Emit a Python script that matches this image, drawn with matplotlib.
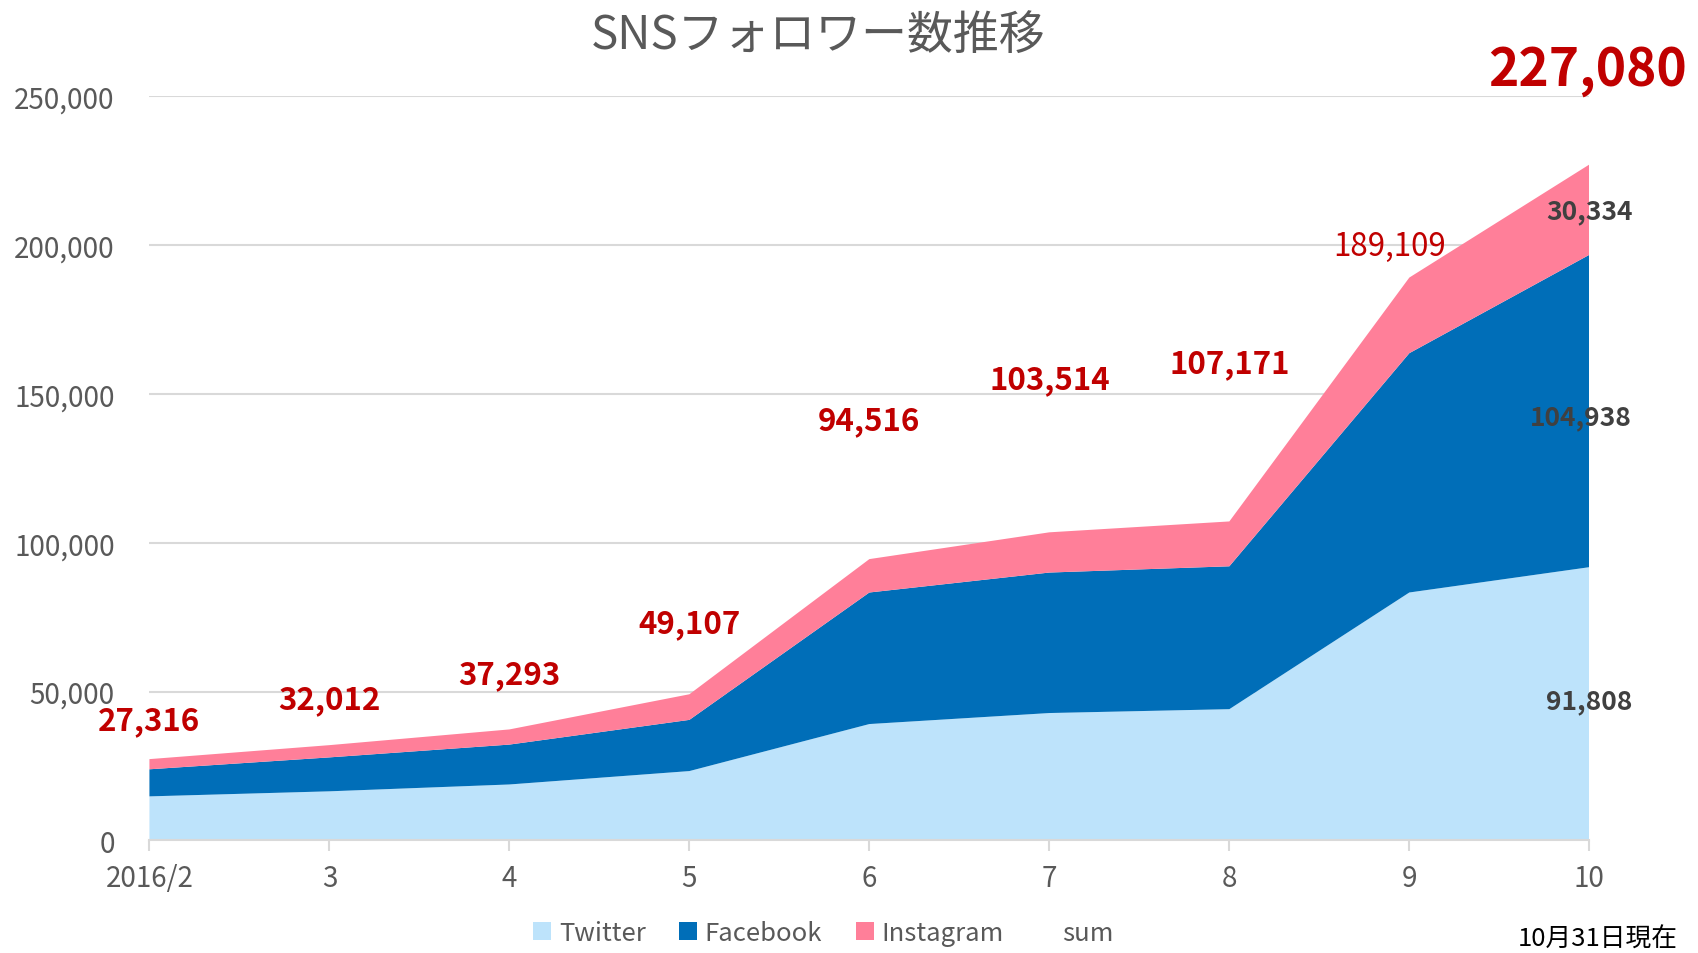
import matplotlib
matplotlib.use("Agg")
import matplotlib.pyplot as plt
import numpy as np
from matplotlib.patches import Patch
from matplotlib.lines import Line2D

plt.rcParams['font.family'] = ['Noto Sans CJK JP', 'DejaVu Sans']

# ---- data ----
months = ["2016/2", "3", "4", "5", "6", "7", "8", "9", "10"]
twitter = [14800, 16500, 18800, 23300, 39100, 42800, 44100, 83300, 91808]
facebook = [9100, 11400, 13400, 17200, 44200, 47200, 48000, 80400, 104938]
instagram = [3416, 4112, 5093, 8607, 11216, 13514, 15071, 25409, 30334]
totals = [27316, 32012, 37293, 49107, 94516, 103514, 107171, 189109, 227080]
series_names = ["Twitter", "Facebook", "Instagram", "sum"]

# label placement (offset above total, data units) and x shift
label_offsets = [13000, 15500, 18500, 24000, 46700, 51500, 53300, 10700]
label_xshift = [0, 0, 0, 0, 0, 0, 0, -0.11]

c_tw = "#BDE3FB"
c_fb = "#006EB8"
c_ig = "#FF7F99"
red = "#C00000"
gray = "#595959"

fig = plt.figure(figsize=(16.98, 9.54), dpi=100)
ax = fig.add_axes([0.088, 0.118, 0.848, 0.780])

x = np.arange(len(months))
ax.stackplot(x, twitter, facebook, instagram, colors=[c_tw, c_fb, c_ig],
             linewidth=0, zorder=2)

ax.set_xlim(0, len(months) - 1)
ax.set_ylim(0, 250000)
ax.set_yticks(np.arange(0, 250001, 50000))
ax.set_yticklabels([f"{v:,}" for v in range(0, 250001, 50000)])
ax.set_xticks(x)
ax.set_xticklabels(months)
ax.grid(axis='y', color='#D9D9D9', linewidth=1.5, zorder=0)
ax.set_axisbelow(True)
for s in ['top', 'right', 'left']:
    ax.spines[s].set_visible(False)
ax.spines['bottom'].set_color('#D9D9D9')
ax.spines['bottom'].set_linewidth(1.5)
ax.spines['bottom'].set_zorder(3)
ax.tick_params(axis='y', length=0, pad=25, labelsize=20, labelcolor=gray)
ax.tick_params(axis='x', length=8, width=1.5, color='#D9D9D9', pad=8,
               labelsize=20, labelcolor=gray)

# total labels
for i in range(len(months) - 1):
    bold = 'bold' if i != 7 else 'normal'
    ax.text(x[i] + label_xshift[i], totals[i] + label_offsets[i], f"{totals[i]:,}",
            ha='center', va='center', color=red, fontsize=22.5, fontweight=bold,
            zorder=5)

# last-point series labels
last = len(months) - 1
ax.text(last, twitter[last] - 45000, f"{twitter[last]:,}", ha='center', va='center',
        color='#404040', fontsize=19, fontweight='bold', zorder=5)
ax.text(last - 0.05, twitter[last] + facebook[last] * 0.48, f"{facebook[last]:,}",
        ha='center', va='center', color='#404040', fontsize=19, fontweight='bold', zorder=5)
ax.text(last, twitter[last] + facebook[last] + instagram[last] * 0.49,
        f"{instagram[last]:,}", ha='center', va='center', color='#404040',
        fontsize=19, fontweight='bold', zorder=5)

# big total
fig.text(0.935, 0.926, f"{totals[last]:,}", ha='center', va='center', color=red,
         fontsize=37, fontweight='bold')

fig.text(0.482, 0.963, "SNSフォロワー数推移", ha='center', va='center',
         color=gray, fontsize=33)

handles = [Patch(facecolor=c_tw), Patch(facecolor=c_fb), Patch(facecolor=c_ig),
           Line2D([], [], color='none')]
leg = fig.legend(handles, series_names, loc='center', bbox_to_anchor=(0.485, 0.021),
                 ncol=4, frameon=False, fontsize=18.5, handlelength=0.7,
                 handleheight=0.7, handletextpad=0.3, columnspacing=1.3)
for t in leg.get_texts():
    t.set_color(gray)

fig.text(0.988, 0.015, "10月31日現在", ha='right', va='center', color='black',
         fontsize=18.5)

fig.savefig("out.png", dpi=100)
